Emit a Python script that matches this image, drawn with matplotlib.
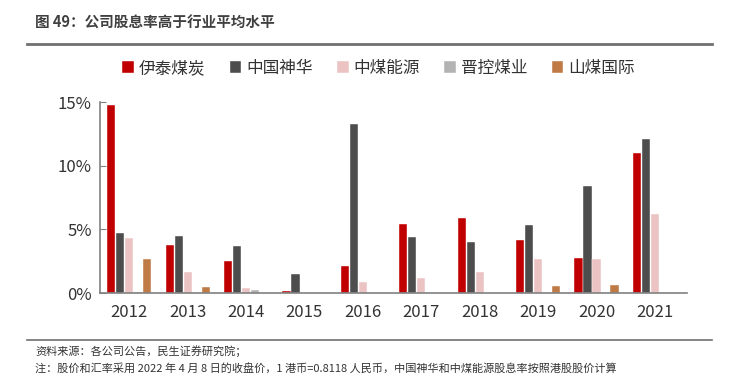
import numpy as np
import matplotlib.pyplot as plt

plt.rcParams['font.family'] = ['Noto Sans CJK SC', 'DejaVu Sans']

years = ['2012', '2013', '2014', '2015', '2016', '2017', '2018', '2019', '2020', '2021']
companies = ['伊泰煤炭', '中国神华', '中煤能源', '晋控煤业', '山煤国际']
yitai = [14.8, 3.8, 2.5, 0.13, 2.15, 5.45, 5.92, 4.14, 2.73, 11.03]
shenhua = [4.7, 4.48, 3.67, 1.47, 13.25, 4.4, 4.0, 5.37, 8.41, 12.13]
zhongmei = [4.35, 1.65, 0.42, 0.0, 0.84, 1.21, 1.65, 2.67, 2.67, 6.18]
jinkong = [0.1, 0.0, 0.24, 0.0, 0.0, 0.0, 0.0, 0.0, 0.0, 0.0]
shanmei = [2.7, 0.45, 0.0, 0.0, 0.0, 0.0, 0.0, 0.55, 0.66, 0.0]
colors = ['#C00000', '#4D4D4D', '#EBC3C3', '#B3B3B3', '#BF7A45']

fig = plt.figure(figsize=(7.32, 3.77), dpi=100)
ax = fig.add_axes([0.1366, 0.2228, 0.8019, 0.5066])

x = np.arange(len(years))
step = 0.154
width = 0.14
for i, (name, vals) in enumerate(zip(companies, [yitai, shenhua, zhongmei, jinkong, shanmei])):
    ax.bar(x + (i - 2) * step, vals, width, color=colors[i], label=name,
           edgecolor='white', linewidth=0.3)

ax.set_xlim(-0.5, 9.55)
ax.set_ylim(0, 15)
ax.set_yticks([0, 5, 10, 15])
ax.set_yticklabels(['0%', '5%', '10%', '15%'])
ax.set_xticks(x)
ax.set_xticklabels(years)
ax.tick_params(axis='y', direction='in', length=4, color='#808080', labelsize=12,
               labelcolor='#333333', pad=6)
ax.tick_params(axis='x', length=0, labelsize=12, labelcolor='#333333', pad=8)
for s in ['top', 'right']:
    ax.spines[s].set_visible(False)
for s in ['left', 'bottom']:
    ax.spines[s].set_color('#808080')
    ax.spines[s].set_linewidth(1.2)

fig.legend(loc='center', bbox_to_anchor=(0.517, 0.818), ncol=5, frameon=False,
           fontsize=12, handlelength=0.7, handleheight=0.7, handletextpad=0.3,
           columnspacing=1.45, labelcolor='#333333')

fig.text(0.048, 0.94, '图 49：公司股息率高于行业平均水平', fontsize=10.5,
         fontweight='bold', color='#404040', va='center')
fig.add_artist(plt.Line2D([0.037, 0.973], [0.883, 0.883], color='#707070', lw=2))
fig.add_artist(plt.Line2D([0.037, 0.973], [0.098, 0.098], color='#707070', lw=1.2))
fig.text(0.048, 0.068, '资料来源：各公司公告，民生证券研究院；', fontsize=8,
         color='#333333', va='center')
fig.text(0.048, 0.024, '注：股价和汇率采用 2022 年 4 月 8 日的收盘价，1 港币=0.8118 人民币，中国神华和中煤能源股息率按照港股股价计算',
         fontsize=8, color='#333333', va='center')

fig.savefig('out.png', dpi=100)
